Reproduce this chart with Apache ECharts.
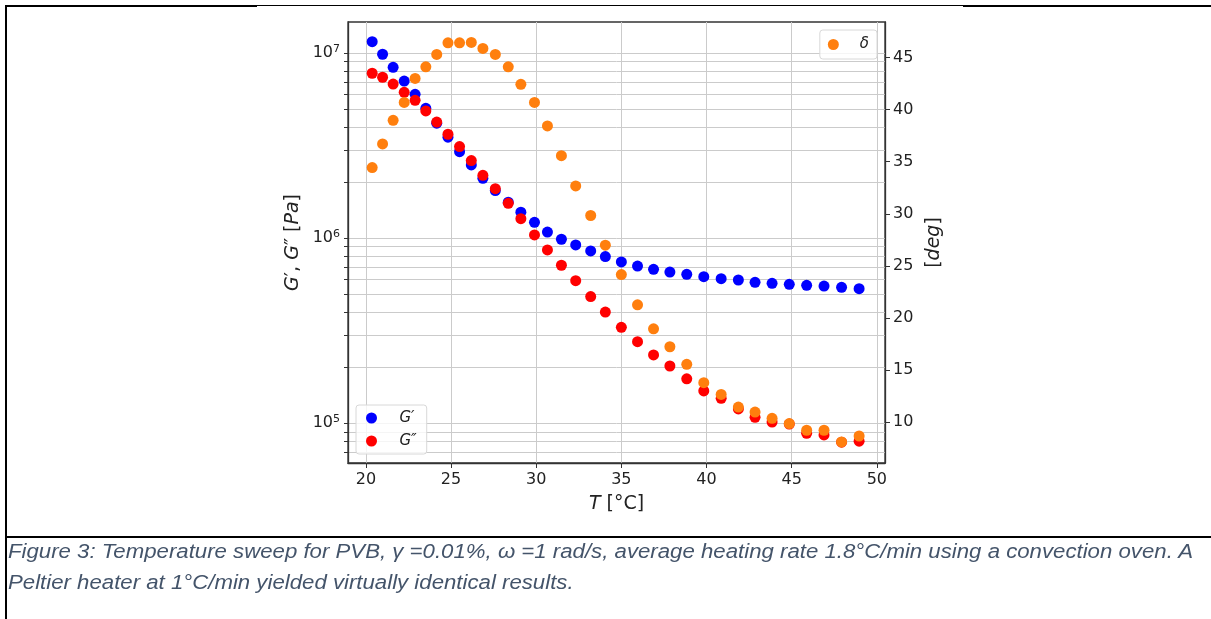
<!DOCTYPE html>
<html>
<head>
<meta charset="utf-8">
<script src="https://cdn.jsdelivr.net/npm/echarts@6/dist/echarts.min.js"></script>
<style>
  html, body { margin: 0; padding: 0; background: #fff; }
  #wrap { position: relative; width: 1211px; height: 619px; overflow: hidden; }
  #chart { position: absolute; left: 0; top: 0; width: 1211px; height: 619px; }
  .ln { position: absolute; background: #000; }
  .cap { position: absolute; left: 8px; font-family: "Liberation Sans Narrow", "Liberation Sans", "DejaVu Sans", sans-serif;
         font-style: italic; font-size: 20px; color: #44546A; white-space: nowrap; transform-origin: 0 0; }
</style>
</head>
<body>
<div id="wrap">
  <div id="chart"></div>
  <div class="ln" style="left:5px;top:5px;width:252px;height:2px;"></div>
  <div class="ln" style="left:257px;top:5px;width:706px;height:1px;"></div>
  <div class="ln" style="left:963px;top:5px;width:248px;height:2px;"></div>
  <div class="ln" style="left:5px;top:5px;width:2px;height:614px;"></div>
  <div class="ln" style="left:5px;top:536px;width:1206px;height:2px;"></div>
  <div class="cap" id="cap1" style="top:540px;">Figure 3: Temperature sweep for PVB, γ =0.01%, ω =1 rad/s, average heating rate 1.8°C/min using a convection oven. A</div>
  <div class="cap" id="cap2" style="top:571px;">Peltier heater at 1°C/min yielded virtually identical results.</div>
</div>
<script>
// ---- data ----
const temperature = [20.37, 20.98, 21.6, 22.25, 22.89, 23.52, 24.16, 24.82, 25.5, 26.19, 26.87, 27.6, 28.36, 29.1, 29.9, 30.66, 31.48, 32.32, 33.2, 34.06, 35.0, 35.95, 36.89, 37.85, 38.84, 39.84, 40.86, 41.87, 42.85, 43.85, 44.86, 45.88, 46.9, 47.93, 48.96];
const storageModulus = [1.155e7, 9.88e6, 8.40e6, 7.08e6, 6.00e6, 5.04e6, 4.19e6, 3.52e6, 2.94e6, 2.49e6, 2.11e6, 1.81e6, 1.566e6, 1.383e6, 1.22e6, 1.08e6, 9.88e5, 9.2e5, 8.54e5, 7.96e5, 7.45e5, 7.08e5, 6.80e5, 6.57e5, 6.39e5, 6.20e5, 6.05e5, 5.95e5, 5.78e5, 5.71e5, 5.64e5, 5.57e5, 5.52e5, 5.43e5, 5.34e5];
const lossModulus = [7.80e6, 7.42e6, 6.82e6, 6.15e6, 5.57e6, 4.88e6, 4.25e6, 3.65e6, 3.13e6, 2.63e6, 2.19e6, 1.855e6, 1.545e6, 1.276e6, 1.042e6, 8.65e5, 7.15e5, 5.90e5, 4.84e5, 3.99e5, 3.30e5, 2.76e5, 2.34e5, 2.04e5, 1.74e5, 1.495e5, 1.365e5, 1.195e5, 1.077e5, 1.016e5, 9.9e4, 8.83e4, 8.65e4, 7.9e4, 8.0e4];
const phaseAngle = [34.44, 36.70, 38.97, 40.69, 42.99, 44.10, 45.29, 46.40, 46.40, 46.44, 45.86, 45.29, 44.10, 42.42, 40.69, 38.43, 35.58, 32.68, 29.84, 26.99, 24.17, 21.27, 18.97, 17.25, 15.56, 13.80, 12.68, 11.46, 10.99, 10.39, 9.88, 9.24, 9.24, 8.12, 8.69];

const xTicks = [20, 25, 30, 35, 40, 45, 50];
const logMajorTicks = [1e5, 1e6, 1e7];
const logAllTicks = [7e4, 8e4, 9e4, 1e5, 2e5, 3e5, 4e5, 5e5, 6e5, 7e5, 8e5, 9e5, 1e6, 2e6, 3e6, 4e6, 5e6, 6e6, 7e6, 8e6, 9e6, 1e7];
const deltaTicks = [10, 15, 20, 25, 30, 35, 40, 45];

const names = { gp: 'G\u2032', gpp: 'G\u2033', d: '\u03b4' };

const chart = echarts.init(document.getElementById('chart'), null, { renderer: 'canvas' });
const FONT = 'DejaVu Sans';
const DARK = '#222';
const GRIDC = '#cbcbcb';
const italicRich = { i: { fontFamily: FONT, fontSize: 19, fontStyle: 'italic', color: DARK } };

const option = {
  animation: false,
  backgroundColor: '#fff',
  textStyle: { fontFamily: FONT },
  grid: { left: 348, top: 22, right: 326, bottom: 156, show: true, borderColor: '#333', borderWidth: 1.3, backgroundColor: 'transparent' },
  legend: [
    {
      data: [names.gp, names.gpp], orient: 'vertical', left: 356, top: 405,
      itemWidth: 22, itemHeight: 11, itemGap: 7, padding: [5, 10, 5, 10],
      backgroundColor: 'rgba(255,255,255,0.8)', borderColor: '#d8d8d8', borderWidth: 1, borderRadius: 3,
      textStyle: { fontFamily: FONT, fontStyle: 'italic', fontSize: 15, color: DARK, padding: [0, 0, 0, 12], lineHeight: 16 }
    },
    {
      data: [names.d], orient: 'vertical', right: 334, top: 30,
      itemWidth: 27, itemHeight: 11, padding: [7, 8, 7, 8],
      backgroundColor: 'rgba(255,255,255,0.8)', borderColor: '#d8d8d8', borderWidth: 1, borderRadius: 3,
      textStyle: { fontFamily: FONT, fontStyle: 'italic', fontSize: 15, color: DARK, padding: [0, 0, 0, 8], lineHeight: 14 }
    }
  ],
  xAxis: {
    type: 'value', min: 18.95, max: 50.48,
    name: '{i|T} [°C]', nameLocation: 'middle', nameGap: 32,
    nameTextStyle: { fontFamily: FONT, fontSize: 19, color: DARK, rich: italicRich },
    axisLine: { show: true, lineStyle: { color: '#333', width: 1.3 } },
    axisTick: { show: true, length: 5, lineStyle: { color: '#333' }, customValues: xTicks },
    axisLabel: { show: true, margin: 9, fontSize: 16, color: DARK, customValues: xTicks },
    splitLine: { show: true, lineStyle: { color: GRIDC, width: 1 } }
  },
  yAxis: [
    {
      type: 'log', logBase: 10, min: 6.1e4, max: 1.476e7, position: 'left',
      name: '{i|G}\u2032, {i|G}\u2033 [{i|Pa}]', nameLocation: 'middle', nameRotate: 90, nameGap: 45,
      nameTextStyle: { fontFamily: FONT, fontSize: 19, color: DARK, rich: italicRich },
      axisLine: { show: true, lineStyle: { color: '#333', width: 1.3 } },
      axisTick: { show: true, length: 4, lineStyle: { color: '#333' }, customValues: logAllTicks },
      axisLabel: {
        show: true, margin: 8, fontSize: 16, color: DARK, customValues: logMajorTicks,
        formatter: function (v) { return '10{s|' + Math.round(Math.log10(v)) + '}'; },
        rich: { s: { fontSize: 11, color: DARK, fontFamily: FONT, padding: [0, 0, 9, 0] } }
      },
      splitLine: { show: true, lineStyle: { color: GRIDC, width: 1 } }
    },
    {
      type: 'value', min: 6.1, max: 48.4, position: 'right',
      name: '[{i|deg}]', nameLocation: 'middle', nameRotate: 90, nameGap: 40,
      nameTextStyle: { fontFamily: FONT, fontSize: 19, color: DARK, rich: italicRich },
      axisLine: { show: true, lineStyle: { color: '#333', width: 1.3 } },
      axisTick: { show: true, length: 5, lineStyle: { color: '#333' }, customValues: deltaTicks },
      axisLabel: { show: true, margin: 8, fontSize: 16, color: DARK, customValues: deltaTicks },
      splitLine: { show: false }
    }
  ],
  series: [
    {
      name: names.gp, type: 'scatter', yAxisIndex: 0, symbol: 'circle', symbolSize: 11,
      itemStyle: { color: '#0000ff', opacity: 1 },
      data: temperature.map((t, i) => [t, storageModulus[i]])
    },
    {
      name: names.gpp, type: 'scatter', yAxisIndex: 0, symbol: 'circle', symbolSize: 11,
      itemStyle: { color: '#ff0000', opacity: 1 },
      data: temperature.map((t, i) => [t, lossModulus[i]])
    },
    {
      name: names.d, type: 'scatter', yAxisIndex: 1, symbol: 'circle', symbolSize: 11,
      itemStyle: { color: '#ff7f0e', opacity: 1 },
      data: temperature.map((t, i) => [t, phaseAngle[i]])
    }
  ]
};
chart.setOption(option);

// fit caption first line width to reference (~1185px)
(function () {
  const c1 = document.getElementById('cap1');
  const c2 = document.getElementById('cap2');
  const w = c1.getBoundingClientRect().width;
  const s = 1185 / w;
  c1.style.transform = 'scaleX(' + s + ')';
  c2.style.transform = 'scaleX(' + s + ')';
})();
</script>
</body>
</html>
